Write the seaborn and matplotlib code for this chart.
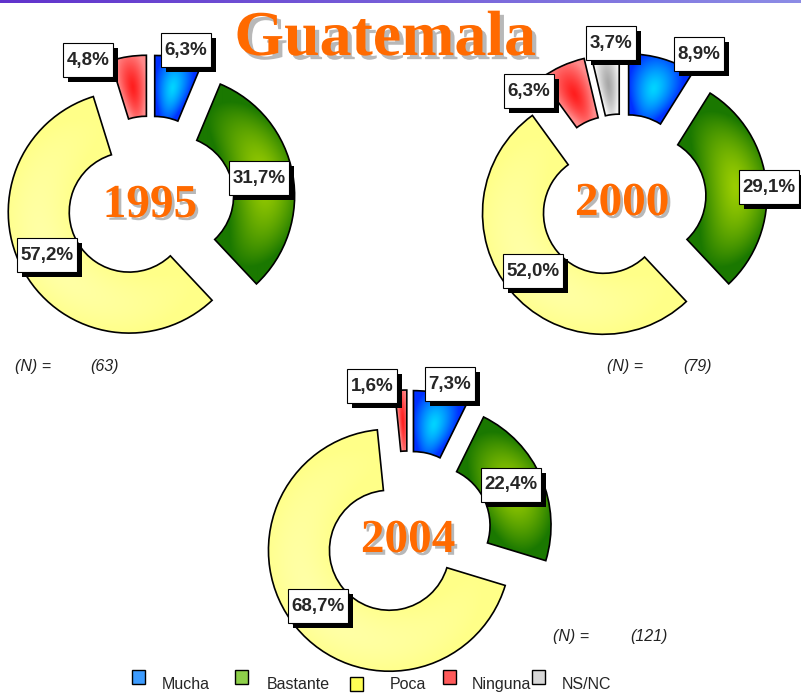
import numpy as np
import matplotlib
matplotlib.use('Agg')
import matplotlib.pyplot as plt
import matplotlib.patches as mpatches
import matplotlib.patheffects as pe
from matplotlib import font_manager
import seaborn as sns

# datos
categorias = ['Mucha', 'Bastante', 'Poca', 'Ninguna', 'NS/NC']
pct_1995 = [6.3, 31.7, 57.2, 4.8, 0.0]
pct_2000 = [8.9, 29.1, 52.0, 6.3, 3.7]
pct_2004 = [7.3, 22.4, 68.7, 1.6, 0.0]
anios = ['1995', '2000', '2004']
n_casos = [63, 79, 121]

# colores (centro, borde) para el degradado de cada categoria
col_mid = ['#00d4ff', '#9acd00', '#ffffa8', '#ff1e1e', '#a8a8a8']
col_edge = ['#0030ff', '#1a7800', '#ffff88', '#ff8a8a', '#f4f4f4']
col_leg = ['#3d9cff', '#8ed04a', '#ffff55', '#ff5a5a', '#d8d8d8']

W, H = 801, 694
def Y(y):
    return H - y

sns.set_style('white')
plt.rcParams['font.family'] = ['Liberation Sans', 'DejaVu Sans']

def fuente_ok(nombre):
    try:
        font_manager.findfont(nombre, fallback_to_default=False)
        return True
    except Exception:
        return False

narrow = 'Liberation Sans Narrow' if fuente_ok('Liberation Sans Narrow') else 'Liberation Sans'
narrow_size = 13.5 if narrow == 'Liberation Sans Narrow' else 11.5

fig = plt.figure(figsize=(W / 100, H / 100), dpi=100)
ax = fig.add_axes([0, 0, 1, 1])

# layout
centros = [(150, 200), (622, 198), (408, 535)]
R, ANCHO, EXPL = 121, 61, 24
pos_etq = [
    [(186, 50), (259, 178), (47, 255), (88, 60)],
    [(699, 54), (769, 187), (533, 271), (529, 91), (611, 43)],
    [(450, 384), (511, 485), (318, 606), (372, 386)],
]
pos_n = [(15, 90, 366), (607, 683, 366), (553, 630, 636)]

sombra_anio = [pe.withSimplePatchShadow(offset=(2, -2), shadow_rgbFace='#b8b8b8', alpha=1)]
sombra_tit = [pe.withSimplePatchShadow(offset=(3, -3), shadow_rgbFace='#b8b8b8', alpha=1)]


def sombrear(w, c1, c2):
    cx, cy = w.center
    r, wd = w.r, w.width
    n = int(2 * r)
    xs = np.linspace(cx - r, cx + r, n)
    ys = np.linspace(cy - r, cy + r, n)
    X, Yg = np.meshgrid(xs, ys)
    ang = np.degrees(np.arctan2(Yg - cy, X - cx))
    span = w.theta2 - w.theta1
    t = ((ang - w.theta1) % 360) / span
    s = np.clip(np.abs(2 * t - 1), 0, 1)
    d = np.hypot(X - cx, Yg - cy)
    q = np.clip(np.abs(2 * (d - (r - wd)) / wd - 1), 0, 1)
    f = np.clip(np.hypot(s, 0.8 * q), 0, 1) ** 1.4
    a = np.array(matplotlib.colors.to_rgb(c1))
    b = np.array(matplotlib.colors.to_rgb(c2))
    img = a[None, None, :] * (1 - f[..., None]) + b[None, None, :] * f[..., None]
    im = ax.imshow(img, extent=(cx - r, cx + r, cy - r, cy + r), origin='lower',
                   zorder=2, interpolation='bilinear')
    im.set_clip_path(w)
    ax.add_patch(mpatches.Wedge(w.center, r, w.theta1, w.theta2, width=wd,
                                fill=False, ec='black', lw=1.2, zorder=3))


for k, vals in enumerate([pct_1995, pct_2000, pct_2004]):
    idx = [i for i, v in enumerate(vals) if v > 0]
    v = [vals[i] for i in idx]
    cx, cy = centros[k]
    wedges, _ = ax.pie(v, startangle=90, counterclock=False, radius=R,
                       center=(cx, Y(cy)), explode=[EXPL] * len(v),
                       colors=[col_mid[i] for i in idx],
                       wedgeprops=dict(width=ANCHO, lw=0), frame=True)
    for w, i in zip(wedges, idx):
        sombrear(w, col_mid[i], col_edge[i])
    # etiquetas de porcentaje
    for (px, py), val in zip(pos_etq[k], v):
        txt = f'{val:.1f}'.replace('.', ',') + '%'
        bw = 10 * len(txt) + 10
        bh = 34
        ax.add_patch(mpatches.Rectangle((px - bw / 2 + 5, Y(py) - bh / 2 - 5), bw, bh,
                                        fc='black', ec='none', zorder=5))
        ax.add_patch(mpatches.Rectangle((px - bw / 2, Y(py) - bh / 2), bw, bh,
                                        fc='white', ec='black', lw=0.8, zorder=6))
        ax.text(px, Y(py), txt, ha='center', va='center', fontsize=13.5,
                fontweight='bold', zorder=7)
    # anio en el centro
    ax.text(cx, Y(cy + 17), anios[k], ha='center', va='baseline',
            fontsize=34, fontweight='bold', family='Liberation Serif',
            color='#ff6a00', zorder=4, path_effects=sombra_anio)
    # (N)
    x1, x2, yn = pos_n[k]
    ax.text(x1, Y(yn), '(N) =', ha='left', va='center', fontsize=narrow_size,
            style='italic', family=narrow, color='#222222')
    ax.text(x2, Y(yn), f'({n_casos[k]})', ha='left', va='center', fontsize=narrow_size,
            style='italic', family=narrow, color='#222222')

# titulo
ax.text(385, Y(55), 'Guatemala', ha='center', va='baseline', fontsize=46,
        fontweight='bold', family='Liberation Serif', color='#ff6a00', zorder=5,
        path_effects=sombra_tit)

# linea superior
c_izq = np.array([0.38, 0.2, 0.8])
c_der = np.array([0.55, 0.55, 0.9])
barra = c_izq + np.linspace(0, 1, 200)[None, :, None] * (c_der - c_izq)
ax.imshow(barra, extent=(0, W, Y(3), H), aspect='auto', zorder=8)

# leyenda
leg_cuadros = [(132, 670), (235, 670), (350, 677), (443, 670), (532, 670)]
leg_texto = [162, 267, 390, 472, 562]
for i, cat in enumerate(categorias):
    qx, qy = leg_cuadros[i]
    ax.add_patch(mpatches.Rectangle((qx, Y(qy + 14)), 13, 14, fc=col_leg[i],
                                    ec='black', lw=1.0, zorder=5))
    ax.text(leg_texto[i], Y(689), cat, ha='left', va='baseline',
            fontsize=narrow_size, family=narrow)

ax.set_xlim(0, W)
ax.set_ylim(0, H)
ax.set_aspect('auto')
ax.set_axis_off()

fig.savefig('out.png', dpi=100)
